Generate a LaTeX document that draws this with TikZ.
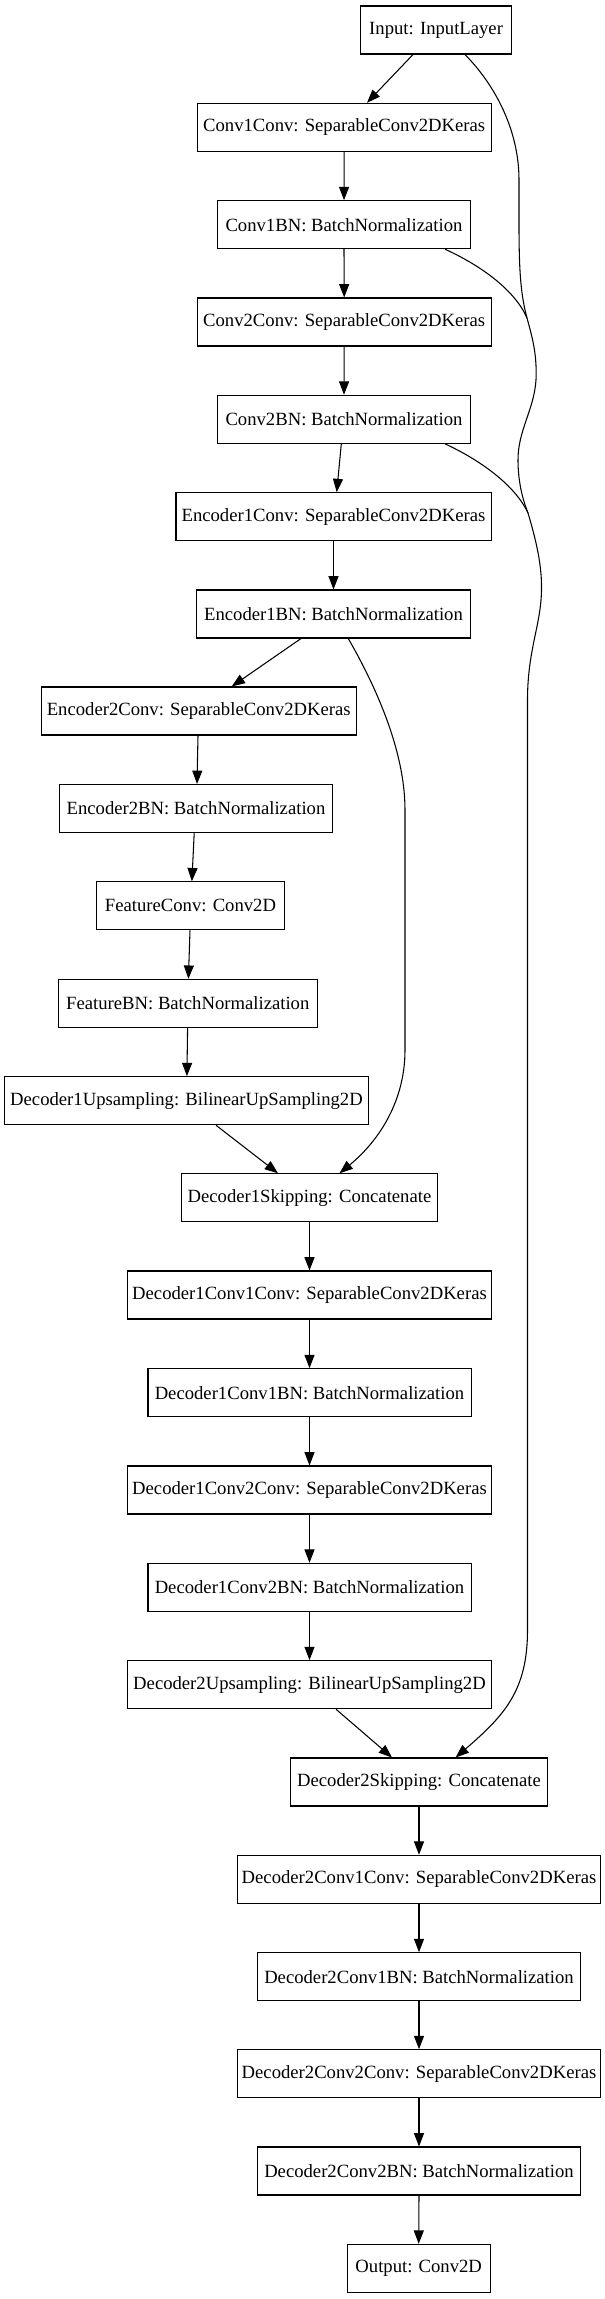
\documentclass[tikz,border=0pt]{standalone}
\usepackage{fontspec}
\setmainfont{Liberation Serif}
\usetikzlibrary{calc,arrows.meta}
\begin{document}
\begin{tikzpicture}[x=0.75pt,y=-0.75pt,
  layer/.style={draw,line width=0.8pt,rectangle,inner sep=0pt,minimum height=36pt,
    font=\fontsize{14}{16}\selectfont},
  arr/.style={line width=0.8pt,-{Triangle[length=10pt,width=7.5pt]}},
  ln/.style={line width=0.8pt}]
\useasboundingbox (0,0) rectangle (605,2299);
\node[layer,minimum width=113.3pt] (in) at (436.1,30) {Input: InputLayer};
\node[layer,minimum width=220.4pt] (c1c) at (344.2,127.3) {Conv1Conv: SeparableConv2DKeras};
\node[layer,minimum width=189.4pt] (c1b) at (344,224.7) {Conv1BN: BatchNormalization};
\node[layer,minimum width=220.4pt] (c2c) at (344.2,322) {Conv2Conv: SeparableConv2DKeras};
\node[layer,minimum width=189.4pt] (c2b) at (344,419.3) {Conv2BN: BatchNormalization};
\node[layer,minimum width=236.3pt] (e1c) at (333.5,516.7) {Encoder1Conv: SeparableConv2DKeras};
\node[layer,minimum width=205pt] (e1b) at (333.5,614) {Encoder1BN: BatchNormalization};
\node[layer,minimum width=236pt] (e2c) at (198.7,711) {Encoder2Conv: SeparableConv2DKeras};
\node[layer,minimum width=205.4pt] (e2b) at (196,808.5) {Encoder2BN: BatchNormalization};
\node[layer,minimum width=140.5pt] (fc) at (190.5,905.8) {FeatureConv: Conv2D};
\node[layer,minimum width=194.3pt] (fb) at (187.8,1003.3) {FeatureBN: BatchNormalization};
\node[layer,minimum width=272.8pt] (d1u) at (186.5,1100.7) {Decoder1Upsampling: BilinearUpSampling2D};
\node[layer,minimum width=192pt] (d1s) at (309.5,1197.8) {Decoder1Skipping: Concatenate};
\node[layer,minimum width=272.5pt] (d1c1c) at (309.5,1295) {Decoder1Conv1Conv: SeparableConv2DKeras};
\node[layer,minimum width=242.3pt] (d1c1b) at (309.5,1392.7) {Decoder1Conv1BN: BatchNormalization};
\node[layer,minimum width=272.5pt] (d1c2c) at (309.5,1490) {Decoder1Conv2Conv: SeparableConv2DKeras};
\node[layer,minimum width=242.3pt] (d1c2b) at (309.5,1587.3) {Decoder1Conv2BN: BatchNormalization};
\node[layer,minimum width=272.5pt] (d2u) at (309.5,1684.7) {Decoder2Upsampling: BilinearUpSampling2D};
\node[layer,minimum width=192.3pt] (d2s) at (419,1782) {Decoder2Skipping: Concatenate};
\node[layer,minimum width=272.8pt] (d2c1c) at (419,1879.3) {Decoder2Conv1Conv: SeparableConv2DKeras};
\node[layer,minimum width=242.1pt] (d2c1b) at (419,1976.7) {Decoder2Conv1BN: BatchNormalization};
\node[layer,minimum width=272.8pt] (d2c2c) at (419,2073.7) {Decoder2Conv2Conv: SeparableConv2DKeras};
\node[layer,minimum width=242.1pt] (d2c2b) at (419,2171) {Decoder2Conv2BN: BatchNormalization};
\node[layer,minimum width=107.5pt] (out) at (418.7,2268.3) {Output: Conv2D};
\coordinate (m1) at (527,318);
\coordinate (m2) at (528,513);
% straight edges
\draw[arr] ($(in.south)+(-23.1,0)$) -- ($(c1c.north)+(22.8,0)$);
\draw[arr] (c1c.south) -- (c1b.north);
\draw[arr] (c1b.south) -- (c2c.north);
\draw[arr] (c2c.south) -- (c2b.north);
\draw[arr] ($(c2b.south)+(-2.7,0)$) -- ($(e1c.north)+(3.2,0)$);
\draw[arr] (e1c.south) -- (e1b.north);
\draw[arr] ($(e1b.south)+(-32.5,0)$) -- ($(e2c.north)+(33,0)$);
\draw[arr] ($(e2c.south)+(-0.7,0)$) -- ($(e2b.north)+(1,0)$);
\draw[arr] ($(e2b.south)+(-1.8,0)$) -- ($(fc.north)+(1.4,0)$);
\draw[arr] ($(fc.south)+(-0.5,0)$) -- ($(fb.north)+(0.6,0)$);
\draw[arr] ($(fb.south)+(-0.2,0)$) -- ($(d1u.north)+(0.4,0)$);
\draw[arr] ($(d1u.south)+(29.5,0)$) -- ($(d1s.north)+(-31.5,0)$);
\draw[arr] (d1s.south) -- (d1c1c.north);
\draw[arr] (d1c1c.south) -- (d1c1b.north);
\draw[arr] (d1c1b.south) -- (d1c2c.north);
\draw[arr] (d1c2c.south) -- (d1c2b.north);
\draw[arr] (d1c2b.south) -- (d2u.north);
\draw[arr] ($(d2u.south)+(26.5,0)$) -- ($(d2s.north)+(-27,0)$);
\draw[arr] (d2s.south) -- (d2c1c.north);
\draw[arr] (d2c1c.south) -- (d2c1b.north);
\draw[arr] (d2c1b.south) -- (d2c2c.north);
\draw[arr] (d2c2c.south) -- (d2c2b.north);
\draw[arr] (d2c2b.south) -- (out.north);
% skip: Encoder1BN -> Decoder1Skipping
\draw[arr] ($(e1b.south)+(14.8,0)$) .. controls (375,685) and (405,750) .. (405,810)
  -- (405,1050) .. controls (405,1100) and (380,1140) .. ($(d1s.north)+(30,0)$);
% merged skips to Decoder2Skipping
\draw[ln] ($(in.south)+(28.9,0)$) .. controls (495,85) and (519,130) .. (519,180)
  .. controls (519,250) and (518,285) .. (m1);
\draw[ln] ($(c1b.south)+(101,0)$) .. controls (480,265) and (515,290) .. (m1);
\draw[ln] (m1) .. controls (533,340) and (537,355) .. (536,380)
  .. controls (534,410) and (518,430) .. (518,460)
  .. controls (518,480) and (522,498) .. (m2);
\draw[ln] ($(c2b.south)+(101,0)$) .. controls (480,460) and (515,485) .. (m2);
\draw[arr] (m2) .. controls (536,540) and (542,565) .. (541.5,590)
  .. controls (541,625) and (527.5,650) .. (527.5,700)
  -- (527.5,1630) .. controls (527.5,1690) and (505,1715) .. ($(d2s.north)+(36.6,0)$);
\end{tikzpicture}
\end{document}
